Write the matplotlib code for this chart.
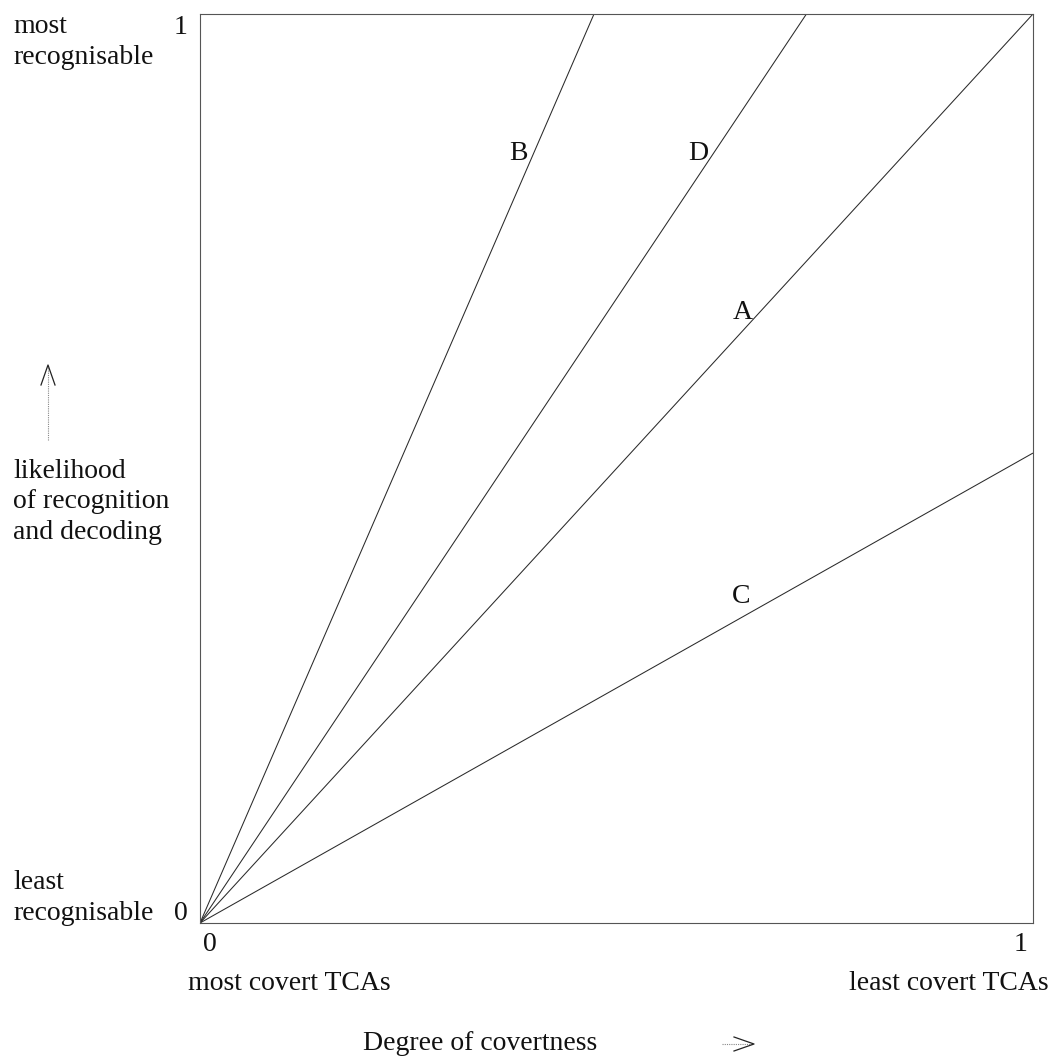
import matplotlib
matplotlib.use("Agg")
import matplotlib.pyplot as plt
import numpy as np

# Data: each line runs from the origin to an end point
line_names = ["B", "D", "A", "C"]
end_x = [0.473, 0.728, 1.0, 1.0]
end_y = [1.0, 1.0, 1.0, 0.517]

x_tick_labels = ["0", "1"]
y_tick_labels = ["0", "1"]

plt.rcParams['font.family'] = ['Liberation Serif', 'DejaVu Serif']
FS = 20
col = '#2a2a2a'

fig = plt.figure(figsize=(10.51, 10.57), dpi=100)
ax = fig.add_axes([200/1051, 1 - 923/1057, 833/1051, 909/1057])
ax.set_xlim(0, 1)
ax.set_ylim(0, 1)
ax.set_xticks([])
ax.set_yticks([])
for s in ax.spines.values():
    s.set_linewidth(0.8)
    s.set_color('#555555')

for ex, ey in zip(end_x, end_y):
    ax.plot([0, ex], [0, ey], color=col, lw=0.75, solid_capstyle='butt')

# line labels (positions in axes coords)
label_pos = {"B": (0.382, 0.847), "D": (0.598, 0.847),
             "A": (0.651, 0.672), "C": (0.650, 0.359)}
for n in line_names:
    x, y = label_pos[n]
    ax.text(x, y, n, fontsize=FS, ha='center', va='center', color='#111')

# tick labels
ax.text(-0.015, 0.985, y_tick_labels[1], transform=ax.transAxes, fontsize=FS,
        ha='right', va='center', color='#111')
ax.text(-0.015, 0.011, y_tick_labels[0], transform=ax.transAxes, fontsize=FS,
        ha='right', va='center', color='#111')
ax.text(0.012, -0.024, x_tick_labels[0], transform=ax.transAxes, fontsize=FS,
        ha='center', va='center', color='#111')
ax.text(0.985, -0.024, x_tick_labels[1], transform=ax.transAxes, fontsize=FS,
        ha='center', va='center', color='#111')

def ftext(px, py, s, ha='left', va='center', **kw):
    fig.text(px/1051, 1 - py/1057, s, fontsize=FS, ha=ha, va=va, color='#111',
             linespacing=1.3, **kw)

ftext(13, 42, "most\nrecognisable")
ftext(13, 898, "least\nrecognisable")
ftext(13, 502, "likelihood\nof recognition\nand decoding")
ftext(188, 983, "most covert TCAs")
ftext(1049, 983, "least covert TCAs", ha='right')
ftext(480, 1043, "Degree of covertness", ha='center')

# up arrow on the left
fig.add_artist(matplotlib.lines.Line2D([48/1051, 48/1051], [1-440/1057, 1-366/1057],
               color='#888888', lw=0.8, ls=(0, (1, 1))))
fig.add_artist(matplotlib.lines.Line2D([41/1051, 48/1051, 55/1051],
               [1-385/1057, 1-365/1057, 1-385/1057], color='#222', lw=0.9))
# right arrow at the bottom
fig.add_artist(matplotlib.lines.Line2D([722/1051, 752/1051], [1-1044/1057, 1-1044/1057],
               color='#888888', lw=0.8, ls=(0, (1, 1))))
fig.add_artist(matplotlib.lines.Line2D([734/1051, 754/1051, 734/1051],
               [1-1037/1057, 1-1044/1057, 1-1051/1057], color='#222', lw=0.9))

fig.savefig("out.png", dpi=100)
